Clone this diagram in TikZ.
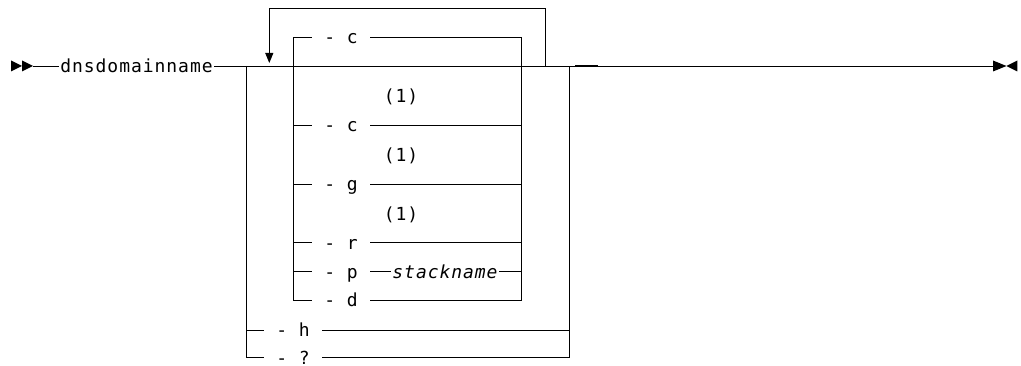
\documentclass[tikz,border=0pt]{standalone}
\usepackage{fontspec}
\newfontfamily\dg[LetterSpace=5.3]{DejaVu Sans Mono}
\usetikzlibrary{arrows.meta}
\begin{document}
\begin{tikzpicture}[x=1pt,y=-1pt,line width=0.95pt,
  lbl/.style={font=\dg\fontsize{18}{20}\selectfont,inner xsep=12pt,inner ysep=0pt,text height=13.4pt,text depth=0pt},
  kw/.style={lbl,inner xsep=1pt},
  note/.style={lbl,inner xsep=0pt}]
\useasboundingbox (0,0) rectangle (1021,366);

% start marker
\fill (11,60.5) -- (22,66) -- (11,71.5) -- cycle;
\fill (22,60.5) -- (33,66) -- (22,71.5) -- cycle;
\coordinate (s) at (33,66);
\coordinate (e) at (993,66);
\coordinate (oL) at (246,66);
\coordinate (oR) at (569.3,66);
\coordinate (iL) at (293.7,66);
\coordinate (iR) at (521.7,66);
\coordinate (lpR) at (545.3,66);
\coordinate (lpA) at (269.3,63);

\node[kw] (dns) at (136.5,66) {dnsdomainname};

\node[lbl] (c1) at (341,37.3) {- c};
\node[lbl] (c2) at (341,125) {- c};
\node[lbl] (g) at (341,184) {- g};
\node[lbl] (r) at (341,242.7) {- r};
\node[lbl] (p) at (341,271.7) {- p};
\node[lbl] (d) at (341,300) {- d};
\node[lbl] (h) at (293,330) {- h};
\node[lbl] (q) at (293,357.5) {- ?};
\node[kw,font=\dg\itshape\fontsize{18}{20}\selectfont] (stack) at (445,271.7) {stackname};

\node[note] (n1) at (401,96) {(1)};
\node[note] (n2) at (401,155) {(1)};
\node[note] (n3) at (401,213.7) {(1)};

% main line
\draw (s) -- (dns.west);
\draw (dns.east) -- (e);
\draw[line width=2pt] (575,66) -- (598,66);

% outer choice
\draw (oL) |- (q.west);
\draw (h.west) -- (h.west -| oL);
\draw (q.east) -| (oR);
\draw (h.east) -- (h.east -| oR);

% inner choice
\draw (c1.west) -- (c1.west -| iL) -- (d.west -| iL) -- (d.west);
\draw (c1.east) -- (c1.east -| iR) -- (d.east -| iR) -- (d.east);
\foreach \n in {c2,g,r} {
  \draw (\n.west) -- (\n.west -| iL);
  \draw (\n.east) -- (\n.east -| iR);
}
\draw (p.west) -- (p.west -| iL);
\draw (p.east) -- (stack.west);
\draw (stack.east) -- (stack.east -| iR);

% repeat loop
\draw[-{Triangle[width=8pt,length=10pt]}] (lpR) -- ++(0,-58) -| (lpA);

% end marker
\fill (993,60.5) -- (1006.5,66) -- (993,71.5) -- cycle;
\fill (1017.3,60.5) -- (1006.5,66) -- (1017.3,71.5) -- cycle;
\end{tikzpicture}
\end{document}
